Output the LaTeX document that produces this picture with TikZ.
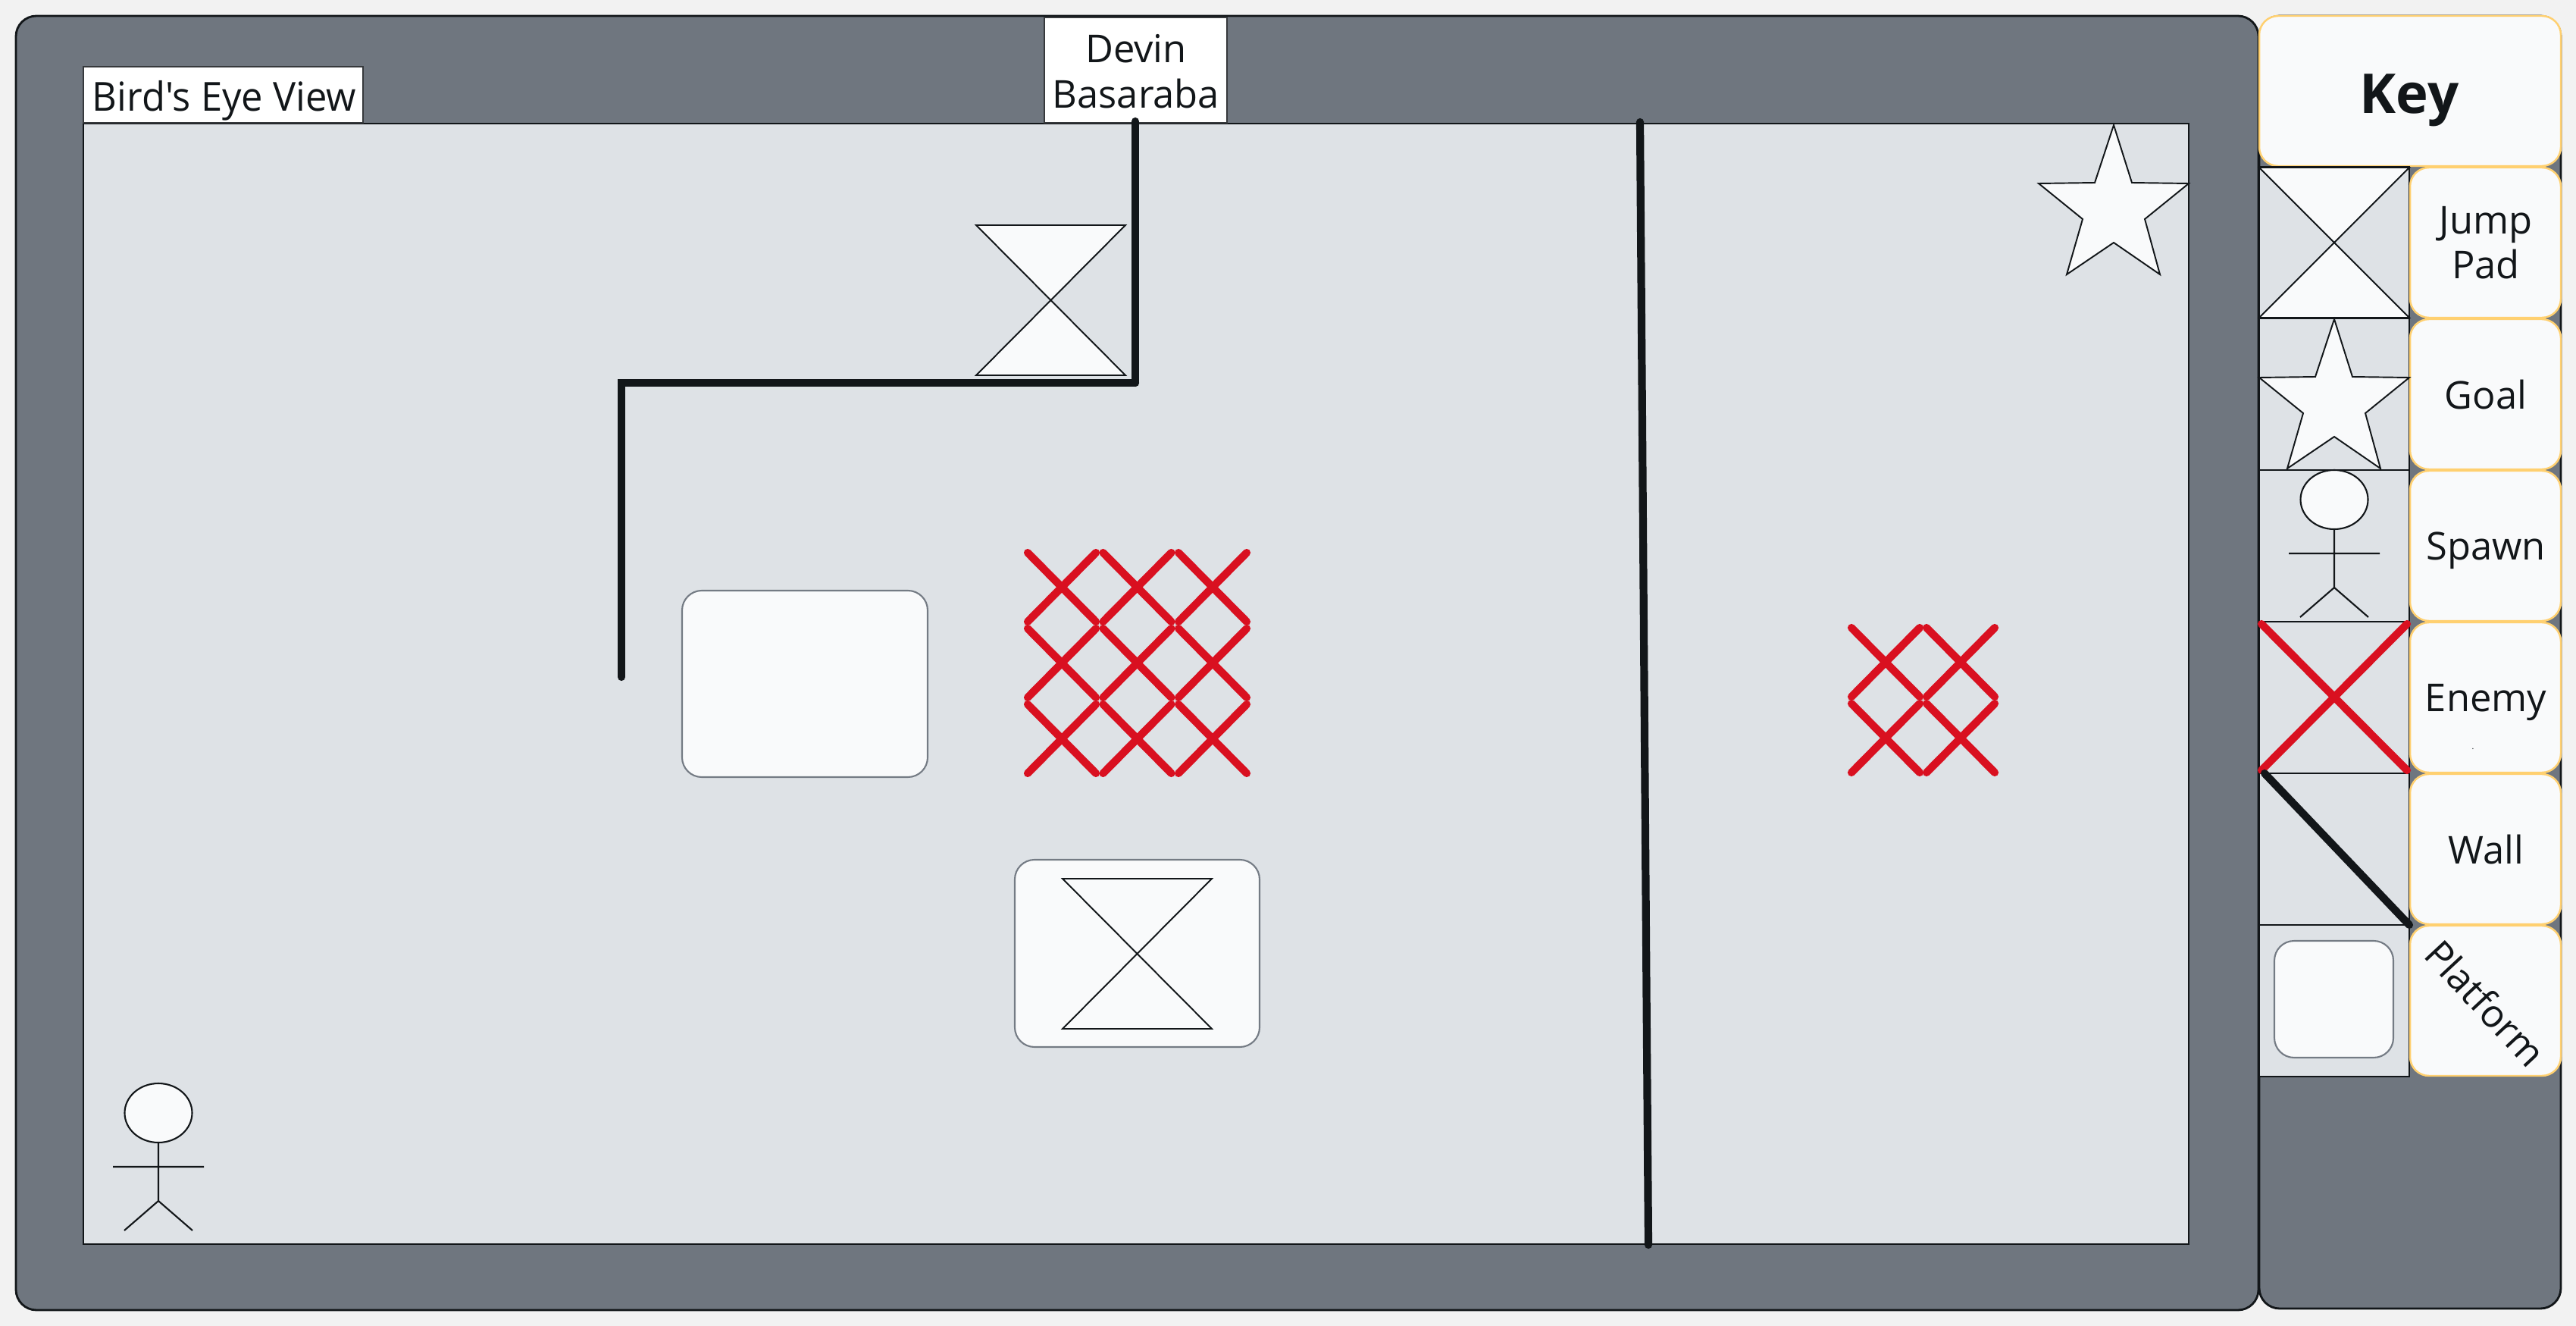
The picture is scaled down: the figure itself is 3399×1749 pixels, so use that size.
\documentclass[tikz,border=0pt]{standalone}
\usepackage{fontspec}
\setmainfont{Open Sans}
\newfontfamily\plainopen{Open Sans}
\definecolor{pagebg}{HTML}{F2F2F2}
\definecolor{panelgrey}{HTML}{6F767F}
\definecolor{fieldgrey}{HTML}{DEE2E6}
\definecolor{softwhite}{HTML}{F9FAFB}
\definecolor{ink}{HTML}{121619}
\definecolor{enemyred}{HTML}{D91020}
\definecolor{keyorange}{HTML}{FFD070}
\definecolor{platedge}{HTML}{747B84}
\tikzset{
  panel/.style={fill=panelgrey,draw=ink,line width=0.8pt,rounded corners=0.27cm},
  fieldbox/.style={fill=fieldgrey,draw=ink,line width=0.7pt},
  cellbox/.style={fill=fieldgrey,draw=ink,line width=0.8pt},
  labelbox/.style={fill=white,draw=ink!85,line width=0.6pt},
  keybox/.style={fill=softwhite,draw=keyorange,line width=0.7pt,rounded corners=0.25cm},
  plat/.style={fill=softwhite,draw=platedge,line width=0.6pt,rounded corners=0.26cm},
  thinshape/.style={fill=softwhite,draw=ink,line width=0.55pt,line join=miter},
  wallline/.style={draw=ink,line width=2.9pt,line cap=round},
  enemyline/.style={draw=enemyred,line width=2.9pt,line cap=round},
  keytext/.style={text=ink,align=center,inner sep=0pt,font=\fontsize{14.4}{16.9}\selectfont},
}
\newcommand{\gamestar}[2]{\draw[thinshape,shift={(#1,#2)}] (99,0) -- (123,76) -- (198,77) -- (140,124) -- (160,197) -- (99,155) -- (37,197) -- (58,124) -- (0,77) -- (74,76) -- cycle;}
\newcommand{\hourglass}[4]{\draw[thinshape] (#1,#2) -- (#3,#2) -- (#1,#4) -- (#3,#4) -- cycle;}
\newcommand{\stickman}[2]{\begin{scope}[shift={(#1,#2)}]
  \draw[ink,line width=0.6pt,fill=softwhite] (0,39) ellipse [x radius=44.5,y radius=39];
  \draw[ink,line width=0.6pt] (0,78) -- (0,155) (-60,110) -- (60,110) (-45,194) -- (0,155) -- (45,194);
\end{scope}}
\newcommand{\enemyx}[2]{\begin{scope}[shift={(#1,#2)}]
  \draw[enemyline] (0,0) -- (90,91) (90,0) -- (0,91);
\end{scope}}
\begin{document}
\begin{tikzpicture}[x=0.01cm,y=-0.01cm]
\fill[pagebg] (0,0) rectangle (3399,1749);
\useasboundingbox (0,0) rectangle (3399,1749);
% panels
\draw[panel] (21,21) rectangle (2980,1728);
\draw[panel] (2981,21) rectangle (3379,1726);
% field
\draw[fieldbox] (110,163) rectangle (2888,1641);
% labels
\draw[labelbox] (110,88) rectangle (479,162);
\node[keytext,font=\plainopen\fontsize{15}{17}\selectfont,xscale=0.96] (birdlabel) at (296,133) {Bird's Eye View};
\draw[labelbox] (1378,23) rectangle (1619,162);
\node[keytext] (devinlabel) at (1499,94) {Devin\\Basaraba};
% walls
\coordinate (wallA) at (1498,160);
\coordinate (wallB) at (1498,505);
\coordinate (wallC) at (820,505);
\coordinate (wallD) at (820,893);
\draw[wallline] (wallA) -- (wallB);
\draw[wallline] (wallB) -- (wallC) -- (wallD);
\coordinate (wallE) at (2164,161);
\coordinate (wallF) at (2175,1642);
\draw[wallline] (wallE) -- (wallF);
% field objects
\hourglass{1288}{297}{1485}{495}
\draw[plat] (900,779) rectangle (1224,1025);
\draw[plat] (1339,1134) rectangle (1662,1381);
\hourglass{1402}{1159}{1599}{1357}
\enemyx{1356}{729}\enemyx{1455.5}{729}\enemyx{1555}{729}
\enemyx{1356}{829}\enemyx{1455.5}{829}\enemyx{1555}{829}
\enemyx{1356}{929}\enemyx{1455.5}{929}\enemyx{1555}{929}
\enemyx{2443}{828}\enemyx{2542}{828}
\enemyx{2443}{928}\enemyx{2542}{928}
\gamestar{2690}{165}
\stickman{209}{1429}
% key
\draw[keybox] (2981,21) rectangle (3379,219);
\node[keytext,font=\fontsize{20.6}{25}\selectfont\bfseries] (keytitle) at (3179,132) {Key};
\foreach \yy in {220,420,620,820,1020,1220}{
  \draw[cellbox] (2981,\yy) rectangle (3179,\yy+200);
  \draw[keybox] (3180,\yy+1) rectangle (3379,\yy+199);
}
\hourglass{2981}{221}{3179}{419}
\gamestar{2981}{421}
\stickman{3080}{620}
\draw[enemyline] (2984,823) -- (3176,1016) (3176,823) -- (2984,1016);
\coordinate (keywallA) at (2988,1020);
\coordinate (keywallB) at (3179,1220);
\draw[wallline] (keywallA) -- (keywallB);
\draw[plat] (3001,1241) rectangle (3158,1395);
\node[keytext] (tjump) at (3280,320) {Jump\\Pad};
\node[keytext] (tgoal) at (3280,521) {Goal};
\node[keytext] (tspawn) at (3280,726) {Spawn};
\node[keytext] (tenemy) at (3280,927) {Enemy};
\node[keytext,font=\fontsize{3}{3}\selectfont] (tdot) at (3263,988) {.};
\node[keytext] (twall) at (3280,1121) {Wall};
\node[keytext,rotate=-47] (tplat) at (3280,1323) {Platform};
\end{tikzpicture}
\end{document}
